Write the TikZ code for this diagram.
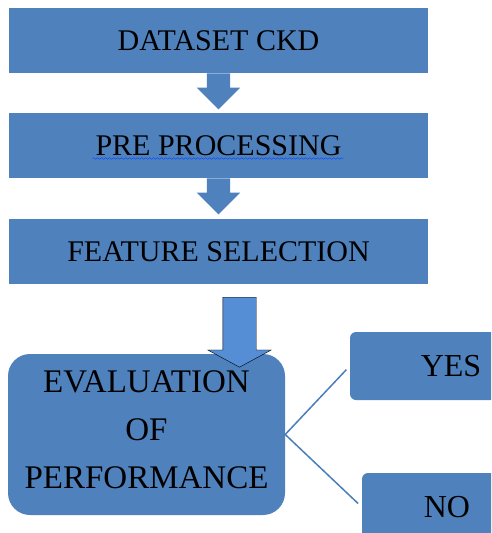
\documentclass[tikz,border=0pt]{standalone}
\usepackage{fontspec}
\setmainfont{Liberation Serif}
\usetikzlibrary{shapes.arrows,decorations.pathmorphing}
\definecolor{boxblue}{HTML}{4F81BD}
\definecolor{arrowblue}{HTML}{558ED5}
\definecolor{lineblue}{HTML}{4A7EBB}

\begin{document}
\begin{tikzpicture}[x=1pt,y=-1pt,
    box/.style={rectangle,fill=boxblue,minimum width=419pt,minimum height=65pt,inner sep=0pt,font=\fontsize{30}{36}\selectfont},
    down arrow/.style={single arrow,rotate=-90,anchor=tail,fill=boxblue,inner xsep=0pt,inner ysep=11.5pt,minimum height=36pt,single arrow head extend=10pt,single arrow tip angle=90},
    answer/.style={rectangle,rounded corners=6pt,fill=boxblue,inner sep=0pt,minimum height=68pt,font=\fontsize{32}{38}\selectfont}]

  \clip (0,0) rectangle (491,533);

  \node[box] (D) at (218.5,40.5) {DATASET CKD};
  \node[down arrow] (A1) at (D.south) {};
  \node[box] (P) at (218.5,145.5) {PRE PROCESSING};
  \node[down arrow] (A2) at (P.south) {};
  \node[box] (F) at (218.5,251.5) {FEATURE SELECTION};

  \node[rectangle,rounded corners=22pt,fill=boxblue,minimum width=277pt,minimum height=161pt,
        inner sep=0pt,align=center,text depth=10pt,font=\fontsize{33}{48}\selectfont] (E) at (146.5,434.5) {EVALUATION\\OF\\PERFORMANCE};
  \node[single arrow,rotate=-90,anchor=tail,draw=black,thin,fill=arrowblue,inner xsep=0pt,inner ysep=16.5pt,
        minimum height=70pt,single arrow head extend=15pt,single arrow tip angle=123] (A3) at (239.5,297) {};

  \node[answer,minimum width=202pt] (Y) at (451,366) {YES};
  \node[answer,minimum width=170pt] (N) at (447,507) {NO};

  \draw[draw=blue!70!cyan,decorate,decoration={snake,amplitude=0.8pt,segment length=4pt}]
    ([shift={(-126,13)}]P.center) -- ([shift={(125,13)}]P.center);

  \path[draw=lineblue,line width=1.5pt,shorten >=5pt]
    (E.east) edge (Y.west)
    (E.east) edge (N.west);
\end{tikzpicture}
\end{document}
